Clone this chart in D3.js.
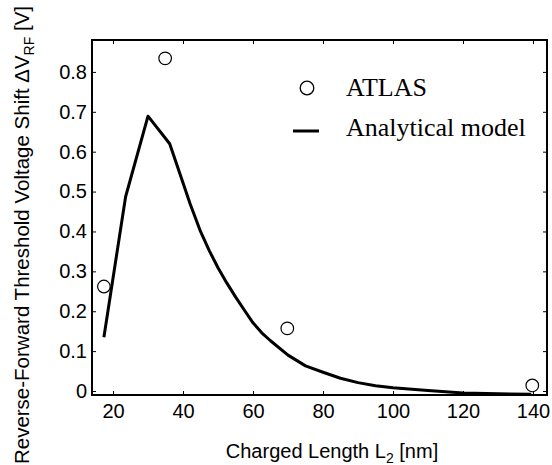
<!DOCTYPE html>
<html>
<head>
<meta charset="utf-8">
<script src="https://cdn.jsdelivr.net/npm/d3@7"></script>
<style>
  html, body { margin: 0; padding: 0; background: #fff; }
  svg { display: block; }
</style>
</head>
<body>
<svg id="chart" width="552" height="465"></svg>
<script>
// ---- data ----
const atlasX = [17.4, 34.9, 69.8, 139.8];
const atlasY = [0.262, 0.834, 0.157, 0.014];

const modelX = [17.4, 23.6, 30, 36.2, 39.8, 42, 45, 47.5, 50, 52.5, 55, 57.5, 60, 62.5, 65, 70, 75, 80, 85, 90, 95, 100, 110, 120, 130, 139.5];
const modelY = [0.135, 0.487, 0.689, 0.62, 0.527, 0.47, 0.40, 0.352, 0.309, 0.271, 0.236, 0.203, 0.171, 0.146, 0.126, 0.09, 0.063, 0.047, 0.032, 0.021, 0.013, 0.008, 0.001, -0.005, -0.007, -0.008];

const xTicks = [20, 40, 60, 80, 100, 120, 140];
const yTicks = [0, 0.1, 0.2, 0.3, 0.4, 0.5, 0.6, 0.7, 0.8];

const legendLabels = ["ATLAS", "Analytical model"];
const xTitle = "Charged Length L";
const xTitleSub = "2";
const yTitle = "Reverse-Forward Threshold Voltage Shift \u0394V";
const yTitleSub = "RF";

// ---- layout ----
const svg = d3.select("#chart");
const L = 92, R = 547, T = 40, B = 395;

const x = d3.scaleLinear().domain([14, 144]).range([L, R]);
const y = d3.scaleLinear().domain([-0.01, 0.88]).range([B, T]);

const sans = "'Liberation Sans', Arial, sans-serif";
const serif = "'Liberation Serif', 'Times New Roman', serif";

const fmtY = d => d === 0 ? "0" : d3.format(".1f")(d);

const gx = svg.append("g").attr("transform", `translate(0,${B})`)
  .call(d3.axisBottom(x).tickValues(xTicks).tickSize(-4).tickPadding(9).tickSizeOuter(0));
const gxt = svg.append("g").attr("transform", `translate(0,${T})`)
  .call(d3.axisTop(x).tickValues(xTicks).tickSize(-4).tickFormat("").tickSizeOuter(0));
const gy = svg.append("g").attr("transform", `translate(${L},0)`)
  .call(d3.axisLeft(y).tickValues(yTicks).tickSize(-4).tickPadding(5).tickFormat(fmtY).tickSizeOuter(0));
const gyr = svg.append("g").attr("transform", `translate(${R},0)`)
  .call(d3.axisRight(y).tickValues(yTicks).tickSize(-4).tickFormat("").tickSizeOuter(0));

[gx, gxt, gy, gyr].forEach(g => {
  g.select(".domain").remove();
  g.selectAll(".tick line").attr("stroke", "#000").attr("stroke-width", 1);
  g.selectAll("text").attr("fill", "#000").style("font-family", sans).style("font-size", "20px");
});

// frame
svg.append("rect").attr("x", L).attr("y", T).attr("width", R - L).attr("height", B - T)
  .attr("fill", "none").attr("stroke", "#000").attr("stroke-width", 2);

// model line
const pts = modelX.map((v, i) => [v, modelY[i]]);
svg.append("path").datum(pts)
  .attr("fill", "none").attr("stroke", "#000").attr("stroke-width", 3)
  .attr("stroke-linejoin", "round")
  .attr("d", d3.line().x(d => x(d[0])).y(d => y(d[1])));

// ATLAS circles
svg.selectAll("circle.atlas").data(atlasX.map((v, i) => [v, atlasY[i]]))
  .enter().append("circle").attr("class", "atlas")
  .attr("cx", d => x(d[0])).attr("cy", d => y(d[1])).attr("r", 6.3)
  .attr("fill", "#fff").attr("stroke", "#000").attr("stroke-width", 1.2);

// legend
svg.append("circle").attr("cx", 307).attr("cy", 88).attr("r", 6.8)
  .attr("fill", "#fff").attr("stroke", "#000").attr("stroke-width", 1.3);
svg.append("line").attr("x1", 293).attr("x2", 319).attr("y1", 131).attr("y2", 131)
  .attr("stroke", "#000").attr("stroke-width", 3);
svg.append("text").attr("x", 346).attr("y", 96).text(legendLabels[0])
  .style("font-family", serif).style("font-size", "26px").attr("fill", "#000");
svg.append("text").attr("x", 346).attr("y", 136).text(legendLabels[1])
  .style("font-family", serif).style("font-size", "26px").attr("fill", "#000");

// x title
const xt = svg.append("text").attr("x", 332).attr("y", 458).attr("text-anchor", "middle")
  .style("font-family", sans).style("font-size", "20px").attr("fill", "#000");
xt.append("tspan").text(xTitle);
xt.append("tspan").text(xTitleSub).attr("dy", 5).style("font-size", "14px");
xt.append("tspan").text(" [nm]").attr("dy", -5);

// y title
const yt = svg.append("text").attr("transform", "translate(29,235) rotate(-90)")
  .attr("text-anchor", "middle")
  .style("font-family", sans).style("font-size", "20.5px").attr("fill", "#000");
yt.append("tspan").text(yTitle);
yt.append("tspan").text(yTitleSub).attr("dy", 5).style("font-size", "14px");
yt.append("tspan").text(" [V]").attr("dy", -5);
</script>
</body>
</html>
